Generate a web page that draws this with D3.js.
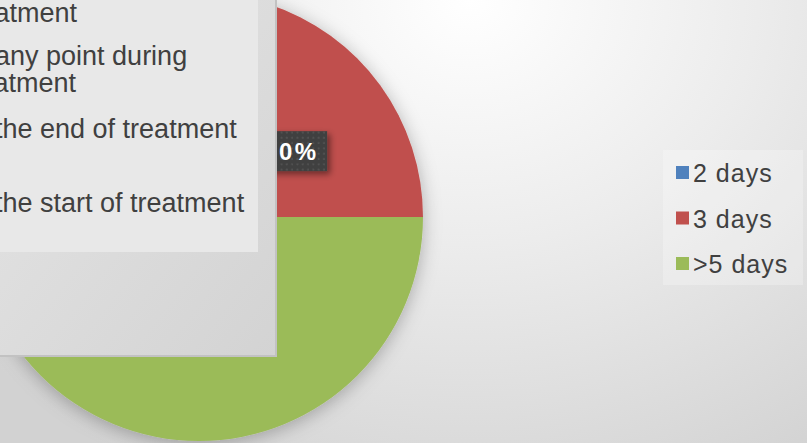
<!DOCTYPE html>
<html>
<head>
<meta charset="utf-8">
<script src="https://cdn.jsdelivr.net/npm/d3@7"></script>
<style>
  html, body { margin: 0; padding: 0; overflow: hidden; background: #fff; }
  svg { display: block; }
</style>
</head>
<body>
<svg id="chart" width="807" height="443"></svg>
<script>
// Share of patients by duration
const categories = ["2 days", "3 days", ">5 days"];
const values = [5, 20, 75];
const sliceColors = ["#4f81bd", "#c0504d", "#9bbb59"];

// Legend text of the neighbouring panel that sits over the left of the slide
const panelLines = [
  "treatment",
  "At any point during",
  "treatment",
  "At the end of treatment",
  "At the start of treatment"
];

const W = 807, H = 443;
const svg = d3.select("#chart");
const defs = svg.append("defs");

// slide background
const bg = defs.append("radialGradient")
  .attr("id", "bgGrad").attr("gradientUnits", "userSpaceOnUse")
  .attr("cx", 470).attr("cy", 0).attr("r", 640)
  .attr("gradientTransform", "translate(470,0) scale(1,0.85) translate(-470,0)");
bg.append("stop").attr("offset", 0).attr("stop-color", "#ffffff");
bg.append("stop").attr("offset", 0.45).attr("stop-color", "#ececec");
bg.append("stop").attr("offset", 1).attr("stop-color", "#d2d2d2");
svg.append("rect").attr("width", W).attr("height", H).attr("fill", "url(#bgGrad)");

// soft shadow under the pie
const pieShadow = defs.append("filter").attr("id", "pieShadow")
  .attr("x", "-20%").attr("y", "-20%").attr("width", "140%").attr("height", "140%");
pieShadow.append("feDropShadow").attr("dx", 0).attr("dy", 3)
  .attr("stdDeviation", 9).attr("flood-color", "#000").attr("flood-opacity", 0.28);

// shadow under the data label
const labelShadow = defs.append("filter").attr("id", "labelShadow")
  .attr("x", "-30%").attr("y", "-30%").attr("width", "160%").attr("height", "170%");
labelShadow.append("feDropShadow").attr("dx", 3).attr("dy", 3)
  .attr("stdDeviation", 3).attr("flood-color", "#000").attr("flood-opacity", 0.45);

// dotted texture of the data label
const dots = defs.append("pattern").attr("id", "dots")
  .attr("patternUnits", "userSpaceOnUse").attr("width", 5.3).attr("height", 5.3);
dots.append("rect").attr("width", 5.3).attr("height", 5.3).attr("fill", "#3f3f3f");
dots.append("rect").attr("x", 1.5).attr("y", 1.5).attr("width", 2).attr("height", 2).attr("fill", "#515151");

// pie
const cx = 199, cy = 217, R = 224;
const total = d3.sum(values);
const pie = d3.pie().sort(null).value(d => d)(values);
const arc = d3.arc().innerRadius(0).outerRadius(R);
const labelArc = d3.arc().innerRadius(R * 0.5).outerRadius(R * 0.5);

const g = svg.append("g").attr("transform", `translate(${cx},${cy})`);
g.append("g").attr("filter", "url(#pieShadow)")
  .selectAll("path").data(pie).join("path")
  .attr("d", arc)
  .attr("fill", (d, i) => sliceColors[i]);

// data labels
const fmt = d3.format(".0%");
const labels = g.append("g").selectAll("g.lbl").data(pie).join("g")
  .attr("class", "lbl")
  .attr("transform", d => `translate(${labelArc.centroid(d)})`);
labels.each(function (d) {
  const lg = d3.select(this);
  const box = lg.append("rect").attr("fill", "url(#dots)").attr("filter", "url(#labelShadow)");
  const t = lg.append("text")
    .attr("text-anchor", "start").attr("dy", "0.36em")
    .attr("font-family", "Liberation Sans, Arial, sans-serif")
    .attr("font-weight", "bold").attr("font-size", 24)
    .attr("letter-spacing", 2.5)
    .attr("fill", "#ffffff")
    .text(fmt(d.data / total));
  const tw = t.node().getComputedTextLength() - 2.5;
  const w = tw + 22;
  t.attr("x", -tw / 2);
  box.attr("x", -w / 2).attr("y", -20).attr("width", w).attr("height", 40);
});

// legend
const legend = svg.append("g");
legend.append("rect").attr("x", 663).attr("y", 150).attr("width", 140).attr("height", 135)
  .attr("fill", "#ffffff").attr("fill-opacity", 0.25);
const rows = legend.selectAll("g.row").data(categories).join("g")
  .attr("class", "row")
  .attr("transform", (d, i) => `translate(676,${166 + i * 45.5})`);
rows.append("rect").attr("width", 13).attr("height", 13)
  .attr("fill", (d, i) => sliceColors[i]);
rows.append("text").attr("x", 17).attr("y", 16)
  .attr("font-family", "Liberation Sans, Arial, sans-serif")
  .attr("font-size", 25).attr("letter-spacing", 1)
  .attr("fill", "#404040")
  .text(d => d);

// neighbouring panel overlapping the left side
const panelGrad = defs.append("linearGradient").attr("id", "panelGrad")
  .attr("x1", 0).attr("y1", 0).attr("x2", 1).attr("y2", 1);
panelGrad.append("stop").attr("offset", 0).attr("stop-color", "#e6e6e6");
panelGrad.append("stop").attr("offset", 1).attr("stop-color", "#d3d3d3");

const panel = svg.append("g");
panel.append("rect").attr("x", -10).attr("y", -10).attr("width", 286).attr("height", 366)
  .attr("fill", "url(#panelGrad)").attr("stroke", "#c2c2c2").attr("stroke-width", 2);
panel.append("rect").attr("x", -10).attr("y", -10).attr("width", 268).attr("height", 262)
  .attr("fill", "#e8e8e8");
const panelLineY = [22, 65, 92, 138, 212];
panel.selectAll("text").data(panelLines).join("text")
  .attr("x", (d, i) => i === 0 ? -37 : -38)
  .attr("y", (d, i) => panelLineY[i])
  .attr("font-family", "Liberation Sans, Arial, sans-serif")
  .attr("font-size", 27)
  .attr("fill", "#404040")
  .text(d => d);
</script>
</body>
</html>
